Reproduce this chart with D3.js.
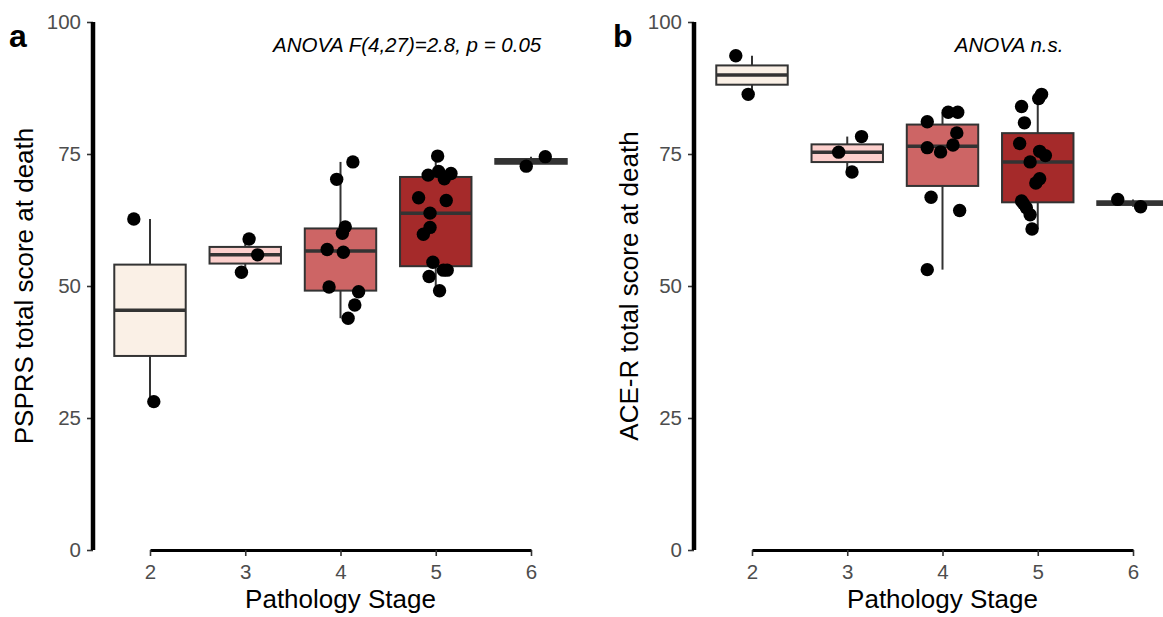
<!DOCTYPE html>
<html>
<head>
<meta charset="utf-8">
<script src="https://cdn.jsdelivr.net/npm/d3@7"></script>
<style>
  body { margin: 0; background: #fff; }
  svg { font-family: "Liberation Sans", Arial, sans-serif; }
</style>
</head>
<body>
<div id="chart"></div>
<script>
// stages and box fills
const stages = [2, 3, 4, 5, 6];
const stageFill = ["#FAF0E6", "#FCCFCC", "#CD6565", "#A52A2A", "#8B1A1A"];
const yTicks = [0, 25, 50, 75, 100];

// panel a: PSPRS (stage, score, jitter)
const psprsStage = [2, 2, 3, 3, 3,
  4, 4, 4, 4, 4, 4, 4, 4, 4, 4,
  5, 5, 5, 5, 5, 5, 5, 5, 5, 5, 5, 5, 5, 5, 5,
  6, 6];
const psprsScore = [62.7, 28.1, 58.9, 55.9, 52.6,
  70.2, 73.5, 61.2, 60.0, 56.9, 56.4, 49.8, 48.9, 46.4, 43.9,
  74.6, 71.0, 71.7, 71.3, 70.3, 66.7, 66.2, 63.8, 61.1, 59.8, 54.5, 53.0, 53.0, 51.8, 49.1,
  72.7, 74.5];
const psprsJitter = [-0.17, 0.04, 0.04, 0.13, -0.04,
  -0.04, 0.13, 0.05, 0.02, -0.14, 0.03, -0.12, 0.19, 0.15, 0.08,
  0.02, -0.08, 0.03, 0.16, 0.09, -0.18, 0.11, -0.06, -0.06, -0.13, -0.03, 0.08, 0.12, -0.07, 0.04,
  -0.05, 0.15];

// panel b: ACE-R
const aceStage = [2, 2, 3, 3, 3,
  4, 4, 4, 4, 4, 4, 4, 4, 4, 4,
  5, 5, 5, 5, 5, 5, 5, 5, 5, 5, 5, 5, 5, 5, 5,
  6, 6];
const aceScore = [93.6, 86.3, 75.35, 78.3, 71.6,
  81.1, 82.9, 82.9, 79.0, 76.2, 75.4, 76.7, 66.8, 64.3, 53.1,
  86.3, 85.5, 84.0, 80.9, 77.0, 75.5, 74.7, 73.5, 70.3, 69.5, 66.1, 65.6, 64.8, 63.5, 60.8,
  66.4, 65.0];
const aceJitter = [-0.17, -0.04, -0.09, 0.15, 0.05,
  -0.16, 0.06, 0.16, 0.15, -0.16, -0.02, 0.11, -0.12, 0.18, -0.16,
  0.04, 0.01, -0.17, -0.14, -0.19, 0.02, 0.08, -0.08, 0.02, -0.02, -0.17, -0.15, -0.12, -0.08, -0.06,
  -0.16, 0.08];

const W = 1163, H = 617;
const svg = d3.select("#chart").append("svg")
  .attr("width", W).attr("height", H);

function drawPanel(p) {
  const x = d3.scaleLinear().domain([2, 6]).range([p.x0, p.x1]);
  const y = d3.scaleLinear().domain([0, 100]).range([550, 22]);
  const g = svg.append("g");
  const boxW = x(2.75) - x(2);

  const pts = p.stage.map((s, i) => ({ s: s, v: p.score[i], j: p.jitter[i] }));

  // box stats, R type 7 quantiles like ggplot
  const boxes = stages.map((s, i) => {
    const vals = pts.filter(d => d.s === s).map(d => d.v).sort(d3.ascending);
    const q1 = d3.quantile(vals, 0.25), med = d3.quantile(vals, 0.5), q3 = d3.quantile(vals, 0.75);
    const iqr = q3 - q1;
    const lo = d3.min(vals.filter(v => v >= q1 - 1.5 * iqr));
    const hi = d3.max(vals.filter(v => v <= q3 + 1.5 * iqr));
    return { s, q1, med, q3, lo, hi, fill: stageFill[i] };
  });

  const bg = g.selectAll("g.box").data(boxes).join("g").attr("class", "box");
  bg.append("line")
    .attr("x1", d => x(d.s)).attr("x2", d => x(d.s))
    .attr("y1", d => y(d.hi)).attr("y2", d => y(d.lo))
    .attr("stroke", "#333").attr("stroke-width", 2);
  bg.append("rect")
    .attr("x", d => x(d.s) - boxW / 2).attr("width", boxW)
    .attr("y", d => y(d.q3)).attr("height", d => y(d.q1) - y(d.q3))
    .attr("fill", d => d.fill).attr("stroke", "#333").attr("stroke-width", 2);
  bg.append("line")
    .attr("x1", d => x(d.s) - boxW / 2).attr("x2", d => x(d.s) + boxW / 2)
    .attr("y1", d => y(d.med)).attr("y2", d => y(d.med))
    .attr("stroke", "#333").attr("stroke-width", 3.5);

  g.selectAll("circle").data(pts).join("circle")
    .attr("cx", d => x(d.s + d.j)).attr("cy", d => y(d.v))
    .attr("r", 6.7).attr("fill", "#000");

  // y axis (thick line, separate from x axis)
  const ya = g.append("g").attr("transform", `translate(${p.yAxisX},0)`)
    .call(d3.axisLeft(y).tickValues(yTicks).tickSize(6).tickPadding(6));
  ya.select(".domain").remove();
  ya.append("line").attr("x1", 0).attr("x2", 0).attr("y1", y(100)).attr("y2", y(0))
    .attr("stroke", "#000").attr("stroke-width", 4.5);
  ya.selectAll(".tick line").attr("stroke", "#333").attr("stroke-width", 1.6);
  ya.selectAll(".tick text").attr("fill", "#4D4D4D").style("font-size", "20.5px");

  const xa = g.append("g").attr("transform", `translate(0,550)`)
    .call(d3.axisBottom(x).tickValues(stages).tickFormat(d3.format("d")).tickSize(6).tickPadding(8).tickSizeOuter(0));
  xa.select(".domain").attr("stroke", "#000").attr("stroke-width", 3);
  xa.selectAll(".tick line").attr("stroke", "#333").attr("stroke-width", 1.6);
  xa.selectAll(".tick text").attr("fill", "#4D4D4D").style("font-size", "20.5px");

  g.append("text").attr("x", (p.x0 + p.x1) / 2).attr("y", 608)
    .attr("text-anchor", "middle").style("font-size", "26px").attr("fill", "#000")
    .text("Pathology Stage");
  g.append("text").attr("transform", `translate(${p.yTitleX},286) rotate(-90)`)
    .attr("text-anchor", "middle").style("font-size", "26px").attr("fill", "#000")
    .text(p.yTitle);

  g.append("text").attr("x", x(4.7)).attr("y", 52)
    .attr("text-anchor", "middle").style("font-size", "20.5px").style("font-style", "italic")
    .attr("fill", "#000").text(p.note);

  g.append("text").attr("x", p.labelX).attr("y", 46.5)
    .style("font-size", "32px").style("font-weight", "bold").attr("fill", "#000")
    .text(p.label);
}

drawPanel({
  stage: psprsStage, score: psprsScore, jitter: psprsJitter,
  x0: 150, x1: 531, yAxisX: 93, yTitleX: 33, labelX: 9,
  yTitle: "PSPRS total score at death", note: "ANOVA F(4,27)=2.8, p = 0.05", label: "a"
});
drawPanel({
  stage: aceStage, score: aceScore, jitter: aceJitter,
  x0: 752, x1: 1133, yAxisX: 694, yTitleX: 638, labelX: 613,
  yTitle: "ACE-R total score at death", note: "ANOVA n.s.", label: "b"
});
</script>
</body>
</html>
